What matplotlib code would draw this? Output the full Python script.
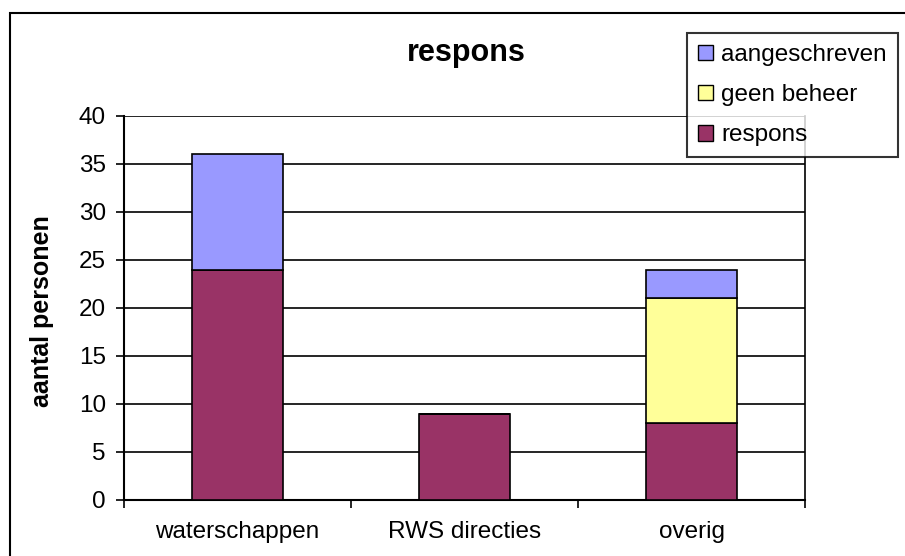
import matplotlib.pyplot as plt
from matplotlib.patches import Rectangle, Patch
import numpy as np

plt.rcParams['font.family'] = ['Liberation Sans', 'DejaVu Sans']

categories = ['waterschappen', 'RWS directies', 'overig']
respons = [24, 9, 8]
geen_beheer = [0, 0, 13]
aangeschreven = [12, 0, 3]

W, H = 905, 556
fig = plt.figure(figsize=(W / 100, H / 100), dpi=100)
ax = fig.add_axes([124 / W, 1 - 500 / H, (805 - 124) / W, (500 - 116) / H])

# outer chart border, runs off the right and bottom edges
fig.patches.append(Rectangle((10 / W, -0.1), 1.1, 1 - 13 / H + 0.1,
                             transform=fig.transFigure, fill=False,
                             edgecolor='black', linewidth=1.5, zorder=0))

x = np.arange(len(categories))
w = 0.405
bottom2 = np.array(respons)
bottom3 = bottom2 + np.array(geen_beheer)

ax.bar(x, respons, w, color='#993366', edgecolor='black', linewidth=1.2, zorder=3)
ax.bar(x, geen_beheer, w, bottom=bottom2, color='#FFFF99', edgecolor='black', linewidth=1.2, zorder=3)
ax.bar(x, aangeschreven, w, bottom=bottom3, color='#9999FF', edgecolor='black', linewidth=1.2, zorder=3)

ax.set_xlim(-0.5, 2.5)
ax.set_ylim(0, 40)
ax.set_yticks(range(0, 41, 5))
ax.yaxis.grid(True, color='black', linewidth=1.2, zorder=0)
ax.set_axisbelow(True)

ax.set_xticks(x)
ax.set_xticklabels(categories, fontsize=17.5)
ax.tick_params(axis='x', length=0, pad=15)
ax.set_xticks([-0.5, 0.5, 1.5, 2.5], minor=True)
ax.tick_params(axis='x', which='minor', length=6, width=1.2, direction='out')
ax.tick_params(axis='y', labelsize=17.5, length=6, width=1.2, pad=7)

for s in ['left', 'bottom']:
    ax.spines[s].set_linewidth(1.5)
ax.spines['right'].set_linewidth(1.2)
ax.spines['top'].set_visible(False)

fig.text(42 / W, 1 - 311 / H, 'aantal personen', fontsize=18, fontweight='bold',
         rotation=90, ha='center', va='center')
fig.text(466 / W, 1 - 53 / H, 'respons', fontsize=22, fontweight='bold',
         ha='center', va='center')

handles = [Patch(facecolor='#9999FF', edgecolor='black', label='aangeschreven'),
           Patch(facecolor='#FFFF99', edgecolor='black', label='geen beheer'),
           Patch(facecolor='#993366', edgecolor='black', label='respons')]
leg = fig.legend(handles=handles, loc='upper left',
                 bbox_to_anchor=(687 / W, 1 - 33 / H), fontsize=17.5,
                 frameon=True, fancybox=False, handlelength=0.6, handleheight=0.6,
                 handletextpad=0.36, labelspacing=0.75, borderpad=0.45,
                 borderaxespad=0)
leg.get_frame().set_edgecolor('black')
leg.get_frame().set_linewidth(1.5)
leg.set_zorder(10)

fig.savefig('out.png', dpi=100)
